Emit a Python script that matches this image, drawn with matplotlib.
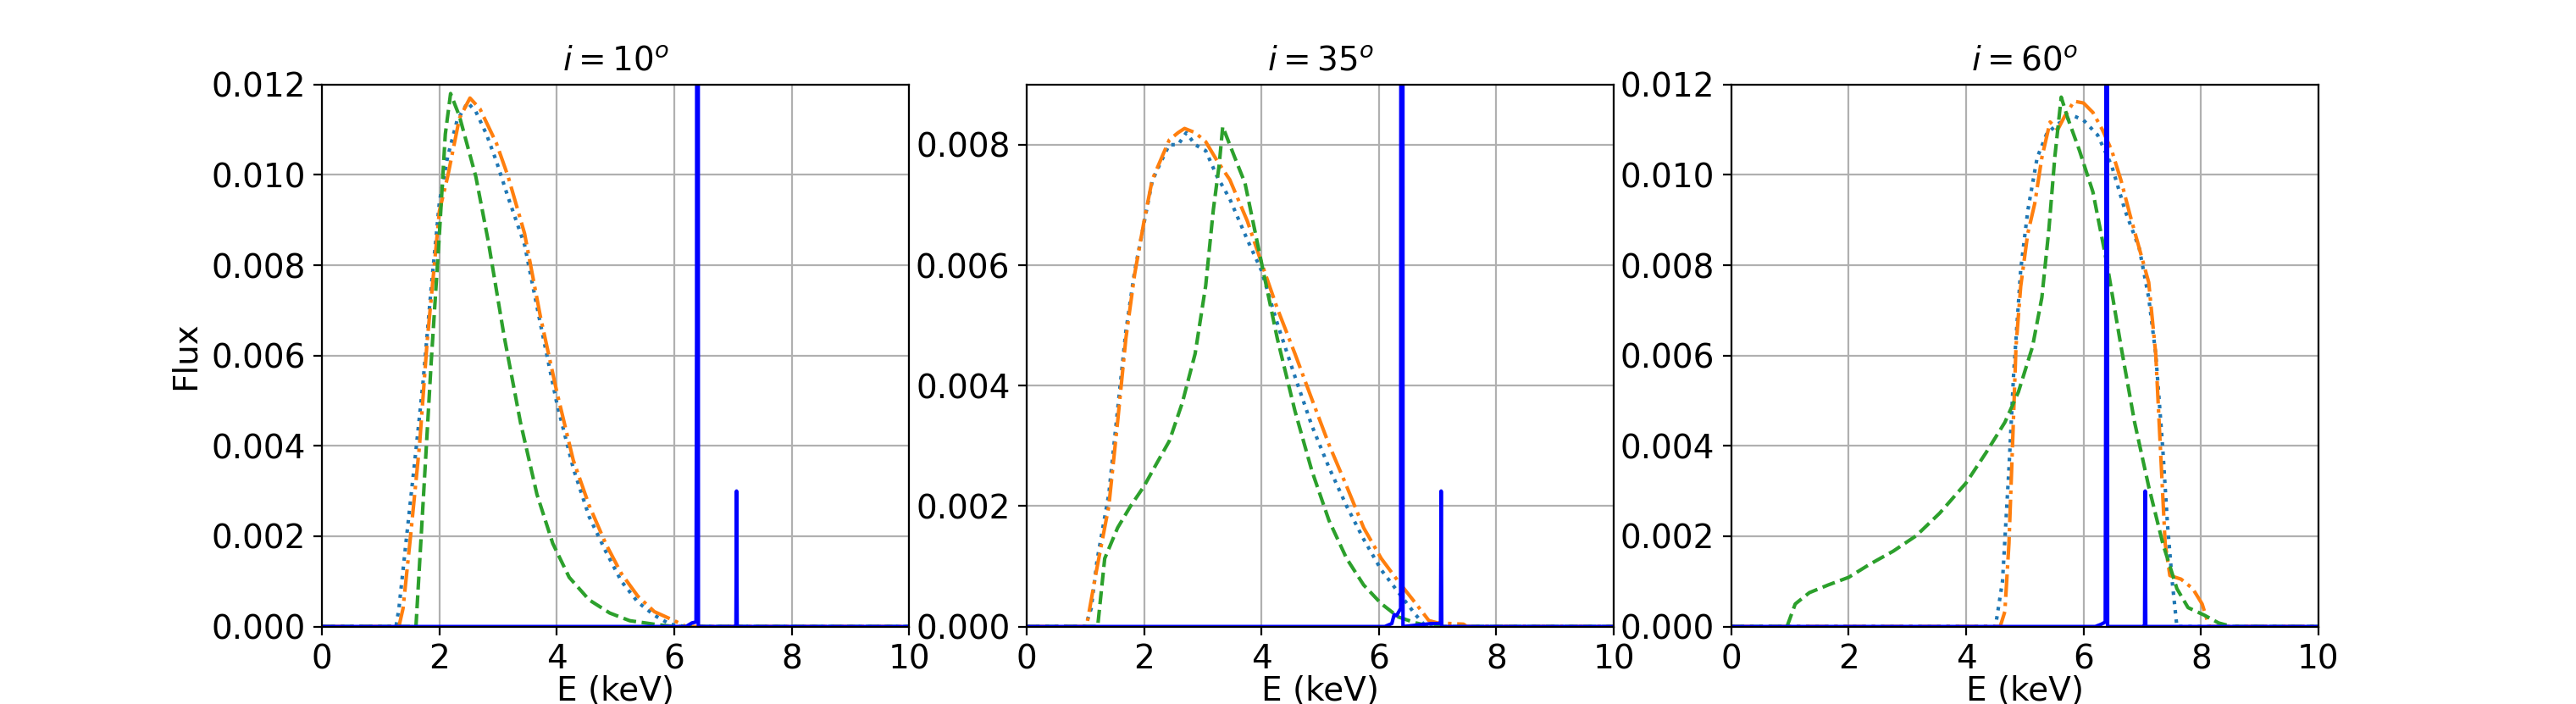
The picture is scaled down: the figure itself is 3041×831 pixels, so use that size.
import numpy as np
import matplotlib
matplotlib.use('Agg')
import matplotlib.pyplot as plt
from matplotlib.ticker import MultipleLocator

plt.rcParams['font.size'] = 14

# valeurs (E en keV, flux)
titles = [r'$i = 10^o$', r'$i = 35^o$', r'$i = 60^o$']
ylims = [0.012, 0.009, 0.012]

# i = 10
E_dot_10 = [0, 1.26, 1.31, 1.45, 1.6, 1.72, 1.86, 2.0, 2.14, 2.3, 2.48, 2.62, 2.8, 2.97, 3.17, 3.45, 3.72, 4.0, 4.28, 4.55, 4.83, 5.1, 5.38, 5.66, 5.93, 6.2, 10]
F_dot_10 = [0, 0, 0.0004, 0.0021, 0.0039, 0.0054, 0.0075, 0.0094, 0.0104, 0.0112, 0.0116, 0.0114, 0.0109, 0.0103, 0.0095, 0.00845, 0.0067, 0.00494, 0.0035, 0.00243, 0.00167, 0.001, 0.00054, 0.00025, 0.00005, 0, 0]
E_dd_10 = [0, 1.31, 1.38, 1.5, 1.66, 1.79, 2.0, 2.14, 2.34, 2.52, 2.69, 2.97, 3.17, 3.45, 3.72, 4.0, 4.28, 4.55, 4.83, 5.1, 5.38, 5.66, 6.0, 6.2, 10]
F_dd_10 = [0, 0, 0.0004, 0.0019, 0.004, 0.0063, 0.0092, 0.00996, 0.01125, 0.0117, 0.01146, 0.0107, 0.00996, 0.0087, 0.00686, 0.00519, 0.00368, 0.00268, 0.00184, 0.00117, 0.00067, 0.00033, 0.00013, 0, 0]
E_da_10 = [0, 1.6, 1.72, 1.86, 2.0, 2.1, 2.19, 2.34, 2.62, 2.83, 3.1, 3.38, 3.66, 3.93, 4.21, 4.55, 4.9, 5.24, 5.72, 6.0, 10]
F_da_10 = [0, 0, 0.0027, 0.00586, 0.0087, 0.0109, 0.0118, 0.0113, 0.00996, 0.00854, 0.00644, 0.00452, 0.00293, 0.00184, 0.00109, 0.00059, 0.0003, 0.00013, 0.00004, 0, 0]
E_b_10 = [0, 6.2, 6.3, 6.37, 6.38, 6.39, 6.4, 6.41, 7.04, 7.05, 7.06, 7.07, 10]
F_b_10 = [0, 0, 0.00008, 0.0001, 0.0065, 0.05, 0.05, 0, 0, 0.00003, 0.003, 0, 0]

# i = 35
E_dot_35 = [0, 1.0, 1.1, 1.2, 1.4, 1.55, 1.69, 1.84, 2.0, 2.14, 2.28, 2.43, 2.58, 2.72, 2.87, 3.05, 3.24, 3.46, 3.76, 4.0, 4.27, 4.57, 4.86, 5.15, 5.45, 5.74, 6.04, 6.33, 6.63, 6.8, 10]
F_dot_35 = [0, 0, 0.0003, 0.0011, 0.0022, 0.0036, 0.0049, 0.0059, 0.0067, 0.0074, 0.0077, 0.0080, 0.0080, 0.0082, 0.0080, 0.0079, 0.00748, 0.0071, 0.00642, 0.00591, 0.00503, 0.00415, 0.00333, 0.00264, 0.002, 0.00145, 0.00094, 0.00057, 0.00019, 0, 0]
E_dd_35 = [0, 1.02, 1.18, 1.4, 1.55, 1.69, 1.84, 2.0, 2.14, 2.28, 2.43, 2.58, 2.69, 2.87, 3.05, 3.24, 3.46, 3.76, 4.0, 4.27, 4.57, 4.86, 5.15, 5.45, 5.74, 6.04, 6.33, 6.63, 6.85, 7.0, 7.44, 7.5, 10]
F_dd_35 = [0, 0, 0.00088, 0.002, 0.0034, 0.00478, 0.00585, 0.00673, 0.00742, 0.00774, 0.00808, 0.0082, 0.00827, 0.0082, 0.00805, 0.00774, 0.00742, 0.00673, 0.00604, 0.00528, 0.00453, 0.00377, 0.00302, 0.00233, 0.00164, 0.00113, 0.00075, 0.00038, 0.0001, 0.00006, 0.00004, 0, 0]
E_da_35 = [0, 1.21, 1.33, 1.55, 1.77, 2.0, 2.21, 2.43, 2.65, 2.87, 3.05, 3.18, 3.28, 3.34, 3.54, 3.72, 4.0, 4.27, 4.57, 4.86, 5.15, 5.45, 5.74, 6.04, 6.33, 6.63, 6.9, 10]
F_da_35 = [0, 0, 0.00113, 0.00164, 0.002, 0.00233, 0.0027, 0.00308, 0.00371, 0.00453, 0.00566, 0.00692, 0.00767, 0.0083, 0.0078, 0.00736, 0.00604, 0.00478, 0.00358, 0.00258, 0.00176, 0.00113, 0.00069, 0.00038, 0.00016, 0.00006, 0, 0]
E_b_35 = [0, 6.1, 6.22, 6.26, 6.3, 6.37, 6.39, 6.4, 6.41, 6.9, 7.04, 7.05, 7.06, 7.07, 10]
F_b_35 = [0, 0, 0.00005, 0.0002, 0.00018, 0.0003, 0.05, 0.05, 0, 0.00005, 0.00005, 0.0001, 0.00225, 0, 0]

# i = 60
E_dot_60 = [0, 4.5, 4.62, 4.73, 4.81, 4.93, 5.05, 5.21, 5.37, 5.56, 5.84, 6.0, 6.24, 6.48, 6.71, 6.95, 7.11, 7.23, 7.35, 7.43, 7.51, 7.59, 10]
F_dot_60 = [0, 0, 0.001, 0.0035, 0.0056, 0.0079, 0.0092, 0.01038, 0.0109, 0.01113, 0.0113, 0.01121, 0.01088, 0.0102, 0.0092, 0.00837, 0.00728, 0.00603, 0.00393, 0.00226, 0.001, 0, 0]
E_dd_60 = [0, 4.58, 4.66, 4.73, 4.8, 4.85, 4.93, 5.05, 5.17, 5.29, 5.43, 5.56, 5.68, 5.84, 6.0, 6.16, 6.32, 6.48, 6.64, 6.79, 6.95, 7.11, 7.23, 7.31, 7.39, 7.47, 7.66, 7.86, 8.02, 8.14, 10]
F_dd_60 = [0, 0, 0.00033, 0.00184, 0.00435, 0.0062, 0.00753, 0.0087, 0.00937, 0.01038, 0.01117, 0.011, 0.0113, 0.01163, 0.01159, 0.01138, 0.011, 0.01054, 0.00987, 0.00912, 0.00837, 0.00762, 0.00603, 0.00393, 0.00184, 0.00113, 0.00105, 0.00084, 0.0005, 0, 0]
E_da_60 = [0, 0.95, 1.09, 1.33, 1.65, 2.0, 2.36, 2.76, 3.15, 3.55, 4.0, 4.34, 4.66, 4.89, 5.13, 5.29, 5.41, 5.51, 5.62, 5.73, 5.93, 6.16, 6.4, 6.64, 6.87, 7.11, 7.35, 7.59, 7.78, 8.06, 8.3, 8.53, 10]
F_da_60 = [0, 0, 0.0005, 0.00075, 0.00092, 0.00109, 0.00138, 0.00167, 0.00201, 0.00251, 0.00318, 0.00385, 0.00452, 0.00519, 0.00619, 0.00728, 0.00879, 0.01038, 0.01172, 0.01126, 0.01054, 0.00962, 0.00803, 0.00619, 0.00452, 0.0031, 0.00184, 0.00084, 0.00042, 0.00025, 0.00008, 0, 0]
E_b_60 = [0, 6.2, 6.3, 6.37, 6.38, 6.39, 6.4, 6.41, 7.03, 7.04, 7.05, 7.06, 10]
F_b_60 = [0, 0, 0.00005, 0.0001, 0.0065, 0.05, 0.05, 0, 0, 0.00003, 0.003, 0, 0]

data = [
    (E_dot_10, F_dot_10, E_dd_10, F_dd_10, E_da_10, F_da_10, E_b_10, F_b_10),
    (E_dot_35, F_dot_35, E_dd_35, F_dd_35, E_da_35, F_da_35, E_b_35, F_b_35),
    (E_dot_60, F_dot_60, E_dd_60, F_dd_60, E_da_60, F_da_60, E_b_60, F_b_60),
]

fig, axs = plt.subplots(1, 3, figsize=(3041/200, 831/200))

for k in range(3):
    ax = axs[k]
    e1, f1, e2, f2, e3, f3, e4, f4 = data[k]
    ax.plot(e1, f1, ':', color='C0')
    ax.plot(e2, f2, '-.', color='C1')
    ax.plot(e3, f3, '--', color='C2')
    ax.plot(e4, f4, 'b-')
    ax.set_xlim(0, 10)
    ax.set_ylim(0, ylims[k])
    ax.yaxis.set_major_locator(MultipleLocator(0.002))
    ax.grid()
    ax.set_title(titles[k], fontsize=14)
    ax.set_xlabel("E (keV)", labelpad=0)
axs[0].set_ylabel("Flux")

plt.savefig("out.png", dpi=200)
